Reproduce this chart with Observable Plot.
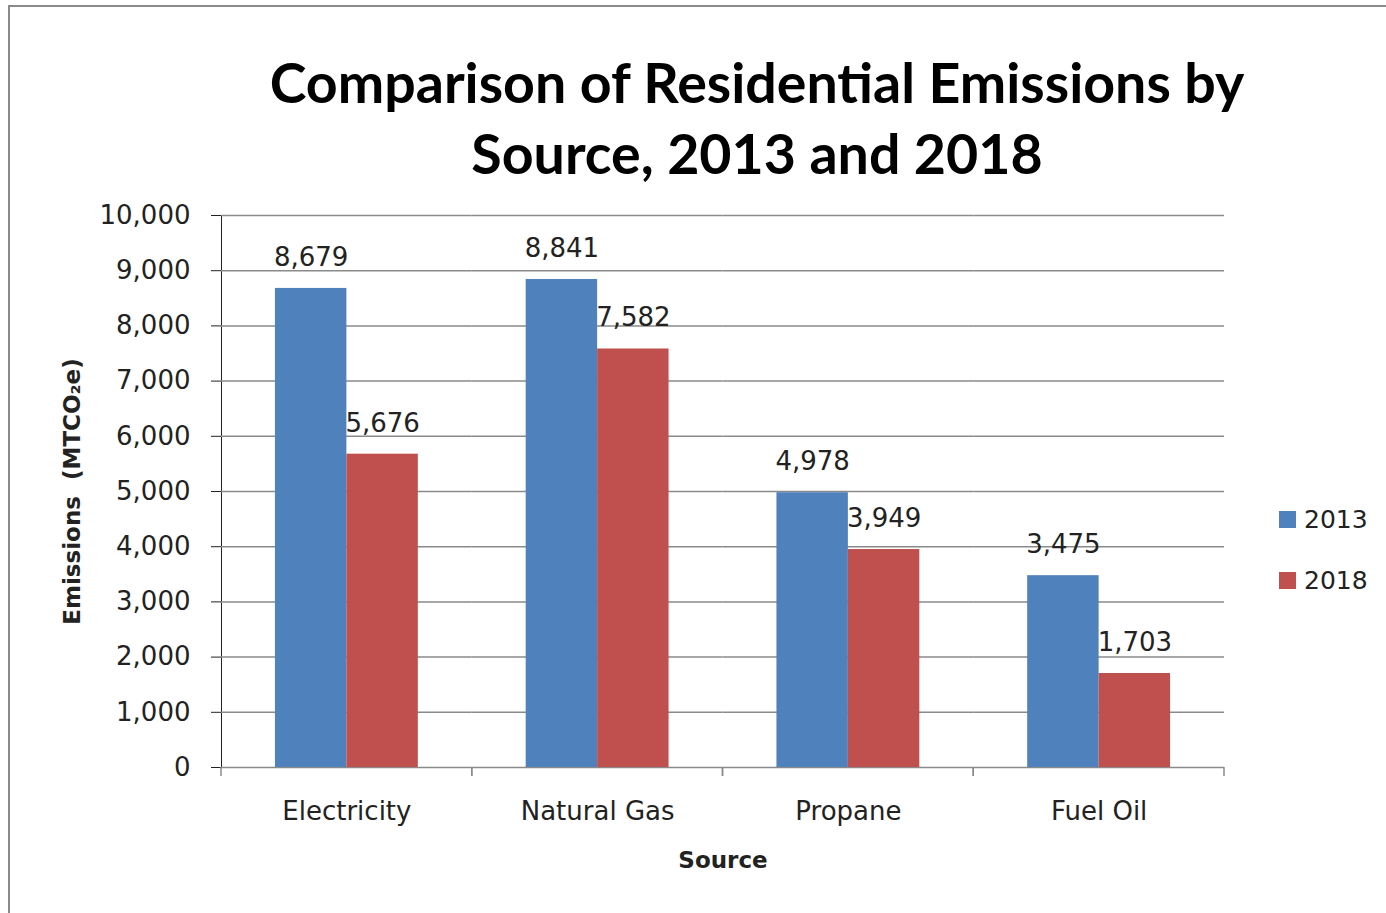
<!DOCTYPE html>
<html><head><meta charset="utf-8">
<script src="https://cdn.jsdelivr.net/npm/d3@7"></script>
<script src="https://cdn.jsdelivr.net/npm/@observablehq/plot@0.6"></script>
<style>
body{margin:0;background:#fff;}
#wrap{position:relative;width:1386px;height:913px;overflow:hidden;font-family:"DejaVu Sans",sans-serif;background:#fff;}
#frame{position:absolute;left:8px;top:5px;width:1500px;height:1000px;border-left:2px solid #8a8a8a;border-top:2px solid #8a8a8a;}
#title{position:absolute;left:0;top:46px;width:1386px;box-sizing:border-box;padding-left:128px;text-align:center;font-family:Lato,"Open Sans",sans-serif;font-weight:700;font-size:55.5px;line-height:71px;color:#000;}
#chart{position:absolute;left:0;top:180px;}
#legend{position:absolute;left:1279px;top:505px;font-size:25px;color:#222;}
#legend .row{display:flex;align-items:center;height:28px;margin-bottom:33px;}
#legend .sw{width:17px;height:17px;margin-right:8px;}
#chart text{fill:#222;}
g[aria-label="y-axis label"] text, g[aria-label="fx-axis label"] text{font-weight:bold;font-size:23px;}
</style>
</head><body>
<div id="wrap">
  <div id="frame"></div>
  <div id="title">Comparison of Residential Emissions by<br>Source, 2013 and 2018</div>
  <div id="chart"></div>
  <div id="legend"></div>
</div>
<script>
const sources = ["Electricity", "Natural Gas", "Propane", "Fuel Oil"];
const years = ["2013", "2018"];
const values2013 = [8679, 8841, 4978, 3475];
const values2018 = [5676, 7582, 3949, 1703];
const yTicks = [0, 1000, 2000, 3000, 4000, 5000, 6000, 7000, 8000, 9000, 10000];
const colors = ["#4f81bd", "#c0504d"];

const rows = [];
sources.forEach((s, i) => {
  rows.push({source: s, year: "2013", value: values2013[i]});
  rows.push({source: s, year: "2018", value: values2018[i]});
});

const boundaryTicks = (index, scales, values, dims) => {
  const g = d3.create("svg:g");
  const r = scales.x && scales.x.range ? scales.x.range() : [dims.marginLeft, dims.width - dims.marginRight];
  const y0 = scales.y(0);
  for (const x of r) {
    g.append("line").attr("x1", x).attr("x2", x).attr("y1", y0).attr("y2", y0 + 9)
      .attr("stroke", "#8a8a8a").attr("stroke-width", 1.5);
  }
  return g.node();
};

const chart = Plot.plot({
  width: 1386,
  height: 733,
  marginTop: 35,
  marginBottom: 146,
  marginLeft: 221,
  marginRight: 162,
  style: {fontFamily: "DejaVu Sans, sans-serif", fontSize: "26px", color: "#222", background: "transparent"},
  facet: {data: rows, x: "source"},
  fx: {domain: sources, paddingInner: 0, paddingOuter: 0, round: false, axis: "bottom", tickSize: 0, tickPadding: 34, label: "Source", labelAnchor: "center", labelOffset: 100, labelArrow: "none"},
  x: {domain: years, paddingInner: 0, paddingOuter: 0.755, round: false, axis: null},
  y: {domain: [0, 10000], ticks: yTicks, tickFormat: d3.format(","), tickSize: 10, tickPadding: 21, line: true, label: "Emissions  (MTCO₂e)", labelAnchor: "center", labelOffset: 158, labelArrow: "none"},
  color: {domain: years, range: colors},
  marks: [
    Plot.ruleY(yTicks, {stroke: "#8a8a8a", strokeWidth: 1.5}),
    Plot.barY(rows, {x: "year", y: "value", fill: "year"}),
    Plot.text(rows, {x: "year", y: "value", text: d => d3.format(",")(d.value), dy: -31, fill: "#222", fontSize: 26}),
    boundaryTicks
  ]
});
document.getElementById("chart").appendChild(chart);

const cs = chart.scale("color");
const leg = document.getElementById("legend");
for (const y of cs.domain) {
  const row = document.createElement("div");
  row.className = "row";
  const sw = document.createElement("div");
  sw.className = "sw";
  sw.style.background = cs.apply(y);
  const t = document.createElement("span");
  t.textContent = y;
  row.appendChild(sw); row.appendChild(t);
  leg.appendChild(row);
}
</script>
</body></html>
